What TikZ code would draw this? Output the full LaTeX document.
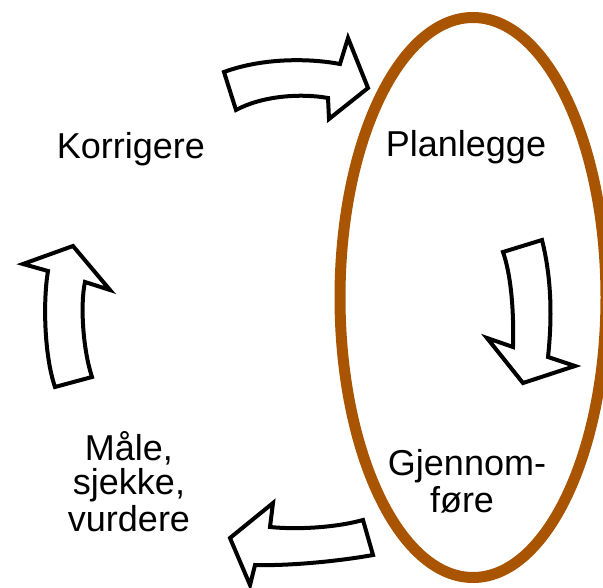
\documentclass[tikz,border=0pt]{standalone}
\usepackage{fontspec}
\setmainfont{Liberation Sans}
\definecolor{ringbrown}{RGB}{168,84,0}
\begin{document}
\begin{tikzpicture}[x=1pt,y=-1pt,
  blockarrow/.style={draw=black,fill=white,line width=4pt,line join=miter},
  label/.style={font=\fontsize{36}{36.5}\selectfont,align=center,anchor=base,inner sep=0pt}]
\useasboundingbox (0,0) rectangle (603,588);
\clip (0,0) rectangle (603,588);
% ring
\draw[ringbrown,line width=11pt] (473,297.5) ellipse [x radius=133, y radius=280];
% labels
\node[label] (korr) at (131,159) {Korrigere};
\node[label] (plan) at (466,157) {Planlegge};
\node[label] (gjen) at (467,475) {Gjennom-};
\node[label] (fore) at (462,512) {føre};
\node[label] (male) at (129,460) {Måle,};
\node[label] (sjek) at (129,494) {sjekke,};
\node[label] (vurd) at (129,531) {vurdere};
% top arrow (right)
\draw[blockarrow] (224,72) .. controls (262,58) and (308,58) .. (340,64)
  -- (348,38) -- (368,88) -- (329,119) -- (328,98)
  .. controls (300,93) and (262,96) .. (236,110) -- cycle;
% right arrow (down)
\draw[blockarrow] (503,252) -- (542,240)
  .. controls (552,280) and (552,320) .. (548,357)
  -- (575,366) -- (523,383) -- (487,338) -- (513,347)
  .. controls (514,310) and (511,275) .. cycle;
% bottom arrow (left)
\draw[blockarrow] (363,520) -- (373,555)
  .. controls (340,561) and (290,566) .. (255,565)
  -- (250,585) -- (230,538) -- (273,503) -- (270,527)
  .. controls (300,530) and (338,527) .. cycle;
% left arrow (up)
\draw[blockarrow] (55,387) -- (92,377)
  .. controls (83,350) and (80,305) .. (85,282)
  -- (110,290) -- (73,246) -- (23,264) -- (48,271)
  .. controls (43,300) and (44,355) .. cycle;
\end{tikzpicture}
\end{document}
